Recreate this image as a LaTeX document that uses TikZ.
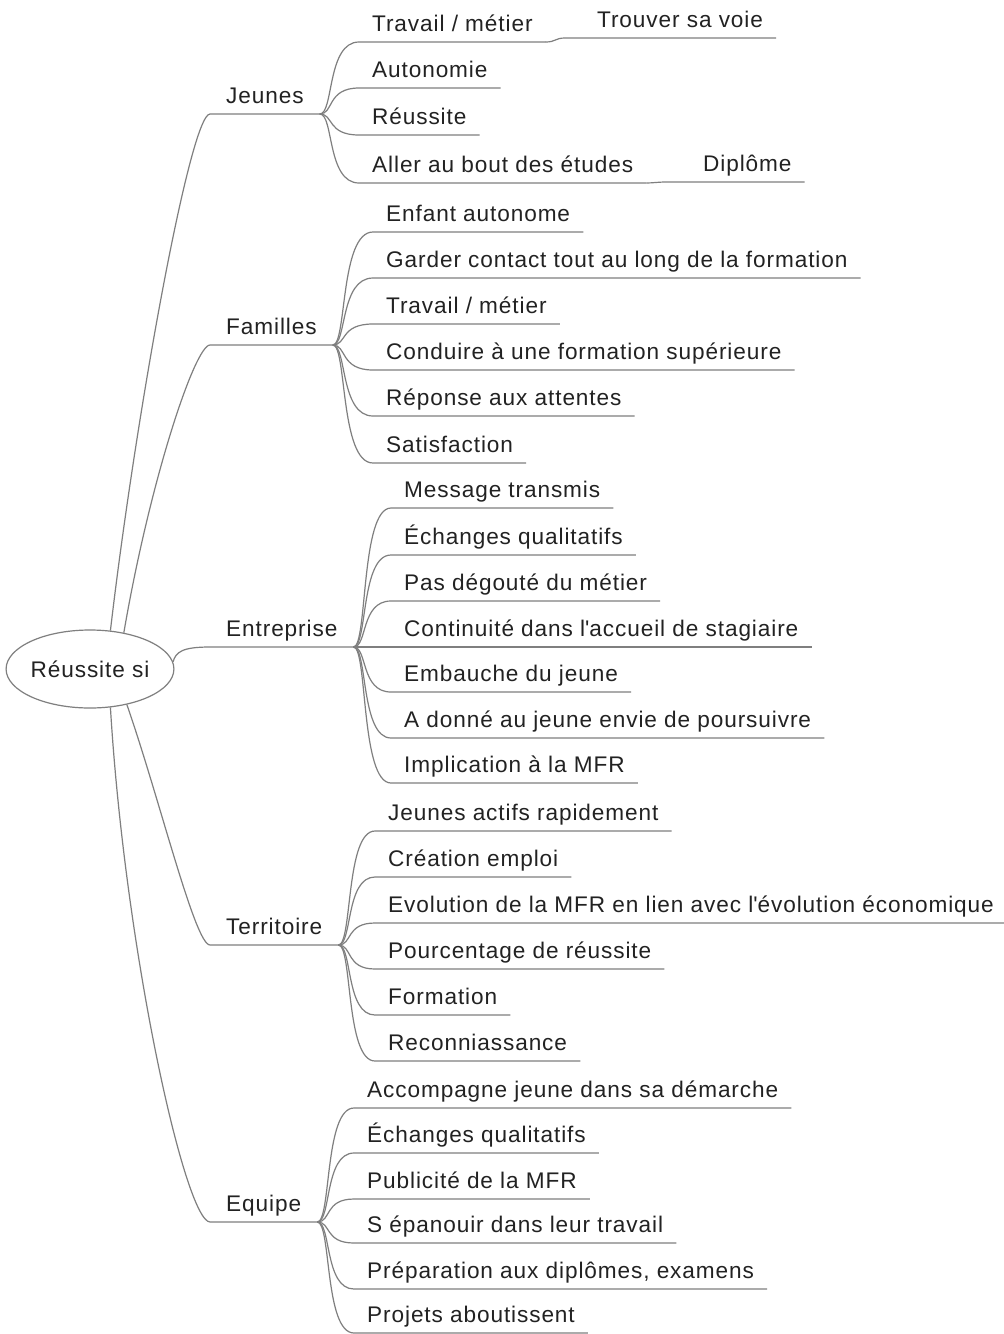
\documentclass[tikz,border=0pt]{standalone}
\usepackage{fontspec}
\setmainfont{Liberation Sans}[LetterSpace=4]
\usetikzlibrary{calc,shapes.geometric}
\definecolor{linec}{HTML}{7F7F7F}
\definecolor{txtc}{HTML}{222222}
\newcommand\mmbranch[2]{\draw[link] (#1.south east) .. controls ($(#1.south east)+(14,0)$) and ($(#1.south east |- #2.south west)+(7,0)$) .. (#2.south west) -- (#2.south east);}
\begin{document}
\begin{tikzpicture}[x=1pt,y=-1pt,
  link/.style={draw=linec,line width=1.2pt},
  lbl/.style={anchor=south west,inner xsep=13pt,inner ysep=0pt,text height=16pt,text depth=10pt,text=txtc,font=\fontsize{22.6}{26}\selectfont},
  toplbl/.style={lbl,inner xsep=16pt},
  rootnode/.style={ellipse,draw=linec,line width=1.2pt,minimum width=164pt,minimum height=78pt,inner sep=0pt,text=txtc,font=\fontsize{22.6}{26}\selectfont}]
\useasboundingbox (0,0) rectangle (1004,1334);
\fill[white] (0,0) rectangle (1004,1334);

\node[rootnode] (root) at (90,669) {Réussite si};

% level 1
\node[toplbl] (jeu) at (210,114) {Jeunes};
\node[toplbl] (fam) at (210,345) {Familles};
\node[toplbl] (ent) at (210,647) {Entreprise};
\node[toplbl] (ter) at (210,945) {Territoire};
\node[toplbl] (equ) at (210,1222) {Equipe};

\draw[link] (root.62) .. controls (135,420) and (190,114) .. (jeu.south west) -- (jeu.south east);
\draw[link] (root.47) .. controls (150,480) and (195,345) .. (fam.south west) -- (fam.south east);
\draw[link] (root.5) .. controls (176,652) and (182,647) .. (ent.south west) -- (ent.south east);
\draw[link] (root.-44) .. controls (160,800) and (195,945) .. (ter.south west) -- (ter.south east);
\draw[link] (root.-62) .. controls (125,950) and (185,1221) .. (equ.south west) -- (equ.south east);

% Jeunes
\node[lbl] (j1) at (359,42) {Travail / métier};
\node[lbl] (j2) at (359,88) {Autonomie};
\node[lbl] (j3) at (359,135) {Réussite};
\node[lbl] (j4) at (359,183) {Aller au bout des études};
\foreach \c in {j1,j2,j3,j4} {\mmbranch{jeu}{\c}}
\coordinate (tsv0) at (565,38);
\node[lbl] (tsv) at (584,38) {Trouver sa voie};
\draw[link] (j1.south east) .. controls ($(j1.south east)+(10,0)$) and ($(tsv0)+(-10,0)$) .. (tsv0) -- (tsv.south east);
\coordinate (dip0) at (665,182);
\node[lbl] (dip) at (690,182) {Diplôme};
\draw[link] (j4.south east) .. controls ($(j4.south east)+(6,0)$) and ($(dip0)+(-6,0)$) .. (dip0) -- (dip.south east);

% Familles
\node[lbl] (f1) at (373,232) {Enfant autonome};
\node[lbl] (f2) at (373,278) {Garder contact tout au long de la formation};
\node[lbl] (f3) at (373,324) {Travail / métier};
\node[lbl] (f4) at (373,370) {Conduire à une formation supérieure};
\node[lbl] (f5) at (373,416) {Réponse aux attentes};
\node[lbl] (f6) at (373,463) {Satisfaction};
\foreach \c in {f1,f2,f3,f4,f5,f6} {\mmbranch{fam}{\c}}

% Entreprise
\node[lbl] (e1) at (391,508) {Message transmis};
\node[lbl] (e2) at (391,555) {Échanges qualitatifs};
\node[lbl] (e3) at (391,601) {Pas dégouté du métier};
\node[lbl] (e4) at (391,647) {Continuité dans l\textquotesingle accueil de stagiaire};
\node[lbl] (e5) at (391,692) {Embauche du jeune};
\node[lbl] (e6) at (391,738) {A donné au jeune envie de poursuivre};
\node[lbl] (e7) at (391,783) {Implication à la MFR};
\foreach \c in {e1,e2,e3,e4,e5,e6,e7} {\mmbranch{ent}{\c}}

% Territoire
\node[lbl] (t1) at (375,831) {Jeunes actifs rapidement};
\node[lbl] (t2) at (375,877) {Création emploi};
\node[lbl] (t3) at (375,923) {Evolution de la MFR en lien avec l\textquotesingle évolution économique};
\node[lbl] (t4) at (375,969) {Pourcentage de réussite};
\node[lbl] (t5) at (375,1015) {Formation};
\node[lbl] (t6) at (375,1061) {Reconniassance};
\foreach \c in {t1,t2,t3,t4,t5,t6} {\mmbranch{ter}{\c}}

% Equipe
\node[lbl] (q1) at (354,1108) {Accompagne jeune dans sa démarche};
\node[lbl] (q2) at (354,1153) {Échanges qualitatifs};
\node[lbl] (q3) at (354,1199) {Publicité de la MFR};
\node[lbl] (q4) at (354,1243) {S épanouir dans leur travail};
\node[lbl] (q5) at (354,1289) {Préparation aux diplômes, examens};
\node[lbl] (q6) at (354,1333) {Projets aboutissent};
\foreach \c in {q1,q2,q3,q4,q5,q6} {\mmbranch{equ}{\c}}
\end{tikzpicture}
\end{document}
